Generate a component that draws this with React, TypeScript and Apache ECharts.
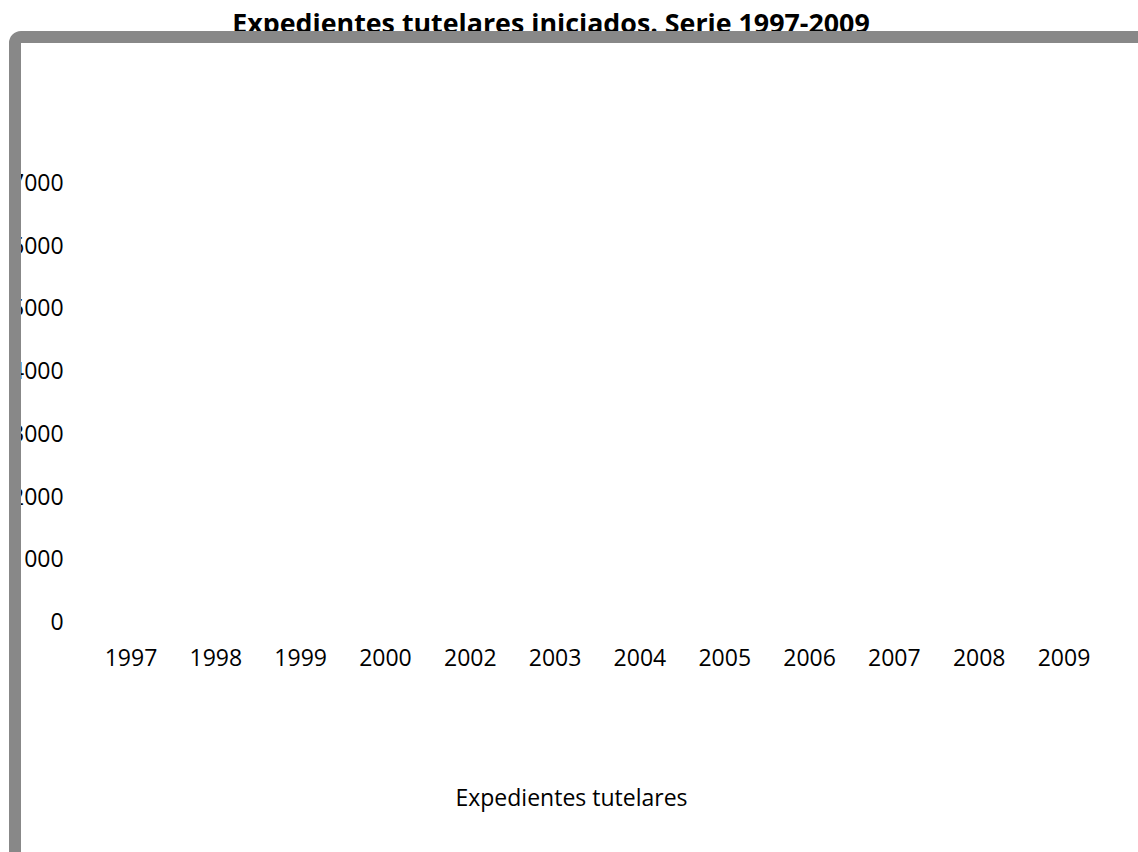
import React, { useEffect, useRef } from "react";
import * as echarts from "echarts";

const categories = ["1997", "1998", "1999", "2000", "2002", "2003", "2004", "2005", "2006", "2007", "2008", "2009"];
// No marks are visible in the reference: the series carries no drawn values.
const values: (number | null)[] = [null, null, null, null, null, null, null, null, null, null, null, null];
const seriesName = "Expedientes tutelares";
const titleText = "Expedientes tutelares iniciados. Serie 1997-2009";
const yMin = 0;
const yMax = 7000;
const yInterval = 1000;

const FONT = "'Open Sans', sans-serif";

export default function App() {
  const ref = useRef<HTMLDivElement>(null);
  useEffect(() => {
    if (!ref.current) return;
    const chart = echarts.init(ref.current, null, { renderer: "svg" });
    chart.setOption({
      animation: false,
      backgroundColor: "#ffffff",
      title: {
        text: titleText,
        left: 546,
        textAlign: "center",
        top: 4,
        textStyle: { fontFamily: FONT, fontWeight: "bold", fontSize: 26.8, color: "#000" },
      },
      legend: {
        data: [seriesName],
        left: "center",
        top: 780,
        icon: "none",
        itemWidth: 0,
        textStyle: { fontFamily: FONT, fontSize: 23, color: "#000" },
      },
      grid: { left: 88.6, right: 31.6, top: 182, bottom: 231, containLabel: false },
      xAxis: {
        type: "category",
        data: categories,
        axisLine: { show: false },
        axisTick: { show: false },
        axisLabel: { fontFamily: FONT, fontSize: 23, color: "#000", margin: 24, interval: 0 },
        splitLine: { show: false },
      },
      yAxis: {
        type: "value",
        min: yMin,
        max: yMax,
        interval: yInterval,
        axisLine: { show: false },
        axisTick: { show: false },
        splitLine: { show: false },
        axisLabel: {
          fontFamily: FONT,
          fontSize: 23,
          color: "#000",
          margin: 25,
          formatter: (v: number) => String(v),
        },
      },
      series: [{ name: seriesName, type: "bar", data: values }],
      graphic: [
        {
          type: "rect",
          z: 100,
          silent: true,
          shape: { x: 15, y: 37, width: 1300, height: 1000, r: 6 },
          style: { fill: "none", stroke: "#888888", lineWidth: 12 },
        },
      ],
    });
    return () => chart.dispose();
  }, []);
  return <div ref={ref} style={{ position: "absolute", left: 0, top: 0, width: 1138, height: 852 }} />;
}
